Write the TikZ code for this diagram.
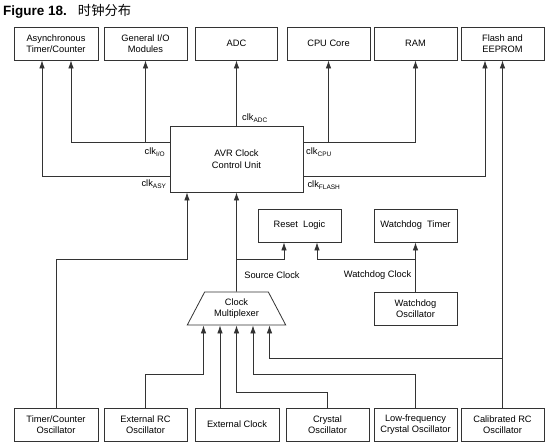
\documentclass[tikz,border=0pt]{standalone}
\usepackage{fontspec}
\setmainfont{Liberation Sans}
\newfontfamily\cjk{Noto Sans CJK SC}
\usepackage{tikz}
\usetikzlibrary{arrows}
\usetikzlibrary{arrows.meta}
\usetikzlibrary{shapes.geometric}
\tikzset{>=latex}
\tikzstyle{blk} = [rectangle, draw = black!80, line width = 0.8pt, minimum width = 83, minimum height = 33, align = center, inner sep = 1, font = \fontsize{9.3}{11.5}\selectfont]
\tikzstyle{lbl} = [draw = none, inner sep = 0, font = \fontsize{9.3}{11}\selectfont]
\tikzstyle{wire} = [-{Latex[length = 8pt, width = 5.5pt]}, line width = 0.8pt, black!80]

\begin{document}
\begin{tikzpicture}[x = 1pt, y = -1pt]
\useasboundingbox (0, 0) rectangle (550, 447);
\node [lbl, anchor = west] (TTL) at (3, 11) {\fontsize{13.5}{14}\selectfont\bfseries Figure 18.\hspace{11pt}{\cjk\mdseries\fontsize{13.3}{14}\selectfont 时钟分布}};
% top row
\node [blk, minimum width = 84] (ASY) at (56, 43.5) {Asynchronous\\Timer/Counter};
\node [blk] (GIO) at (145.5, 43.5) {General I/O\\Modules};
\node [blk, minimum width = 82] (ADC) at (236.5, 43.5) {ADC};
\node [blk] (CPU) at (328.5, 43.5) {CPU Core};
\node [blk] (RAM) at (415.5, 43.5) {RAM};
\node [blk] (FL) at (502.5, 43.5) {Flash and\\EEPROM};
% middle
\node [blk, minimum width = 133, minimum height = 66] (ACU) at (236.5, 159) {AVR Clock\\Control Unit};
\node [blk] (RST) at (299.5, 225.5) {Reset\ \ Logic};
\node [blk] (WDT) at (415.5, 225.5) {Watchdog\ \ Timer};
\node [blk] (WDO) at (415.5, 308.5) {Watchdog\\Oscillator};
\node [blk, trapezium, trapezium angle = 60, trapezium stretches = true, minimum width = 99, minimum height = 33] (MUX) at (236.5, 308.5) {Clock\\Multiplexer};
% bottom row
\node [blk, minimum width = 84] (TCO) at (56, 424.5) {Timer/Counter\\Oscillator};
\node [blk] (ERC) at (145.5, 424.5) {External RC\\Oscillator};
\node [blk, minimum width = 84] (EXT) at (237, 424.5) {External Clock};
\node [blk] (XTL) at (327.5, 424.5) {Crystal\\Oscillator};
\node [blk] (LFX) at (415.5, 424.5) {Low-frequency\\Crystal Oscillator};
\node [blk] (CRC) at (502.5, 424.5) {Calibrated RC\\Oscillator};
% bus levels
\coordinate (hb) at (0, 259);
\coordinate (h1) at (0, 358);
\coordinate (h2) at (0, 374);
\coordinate (h3) at (0, 392);
% clocks out of the control unit
\draw [wire] (ACU.north) -- (ADC.south);
\draw [wire] ([yshift = 17]ACU.west) -| (GIO.south);
\draw [wire] ([yshift = 17]ACU.west) -| ([xshift = 15]ASY.south);
\draw [wire] ([yshift = -17]ACU.west) -| ([xshift = -14]ASY.south);
\draw [wire] ([yshift = 17]ACU.east) -| (CPU.south);
\draw [wire] ([yshift = 17]ACU.east) -| (RAM.south);
\draw [wire] ([yshift = -17]ACU.east) -| ([xshift = -17.5]FL.south);
\draw [wire] (CRC.north) -- (FL.south);
\node [lbl] (cADC) at (255, 118) {clk\textsubscript{ADC}};
\node [lbl] (cIO) at (155, 152) {clk\textsubscript{I/O}};
\node [lbl] (cASY) at (154, 184) {clk\textsubscript{ASY}};
\node [lbl] (cCPU) at (319, 152) {clk\textsubscript{CPU}};
\node [lbl] (cFL) at (324, 185) {clk\textsubscript{FLASH}};
% into the control unit and reset logic
\draw [wire] (TCO.north) -- (TCO.north |- hb) -| ([xshift = -49.5]ACU.south);
\draw [wire] (MUX.north) -- (ACU.south);
\draw [wire] (MUX.north |- hb) -| ([xshift = -15.5]RST.south);
\draw [wire] (WDO.north) -- (WDT.south);
\draw [wire] (WDO.north |- hb) -| ([xshift = 17.5]RST.south);
\node [lbl] (SRC) at (272, 275) {Source Clock};
\node [lbl] (WDC) at (377.5, 275) {Watchdog Clock};
% oscillators into the multiplexer
\draw [wire] (ERC.north) -- (ERC.north |- h2) -| ([xshift = -33]MUX.south);
\draw [wire] ([xshift = -16.5]MUX.south |- EXT.north) -- ([xshift = -16.5]MUX.south);
\draw [wire] (XTL.north) -- (XTL.north |- h3) -| (MUX.south);
\draw [wire] (LFX.north) -- (LFX.north |- h2) -| ([xshift = 16.5]MUX.south);
\draw [wire] (CRC.north |- h1) -| ([xshift = 33]MUX.south);
\end{tikzpicture}
\end{document}
